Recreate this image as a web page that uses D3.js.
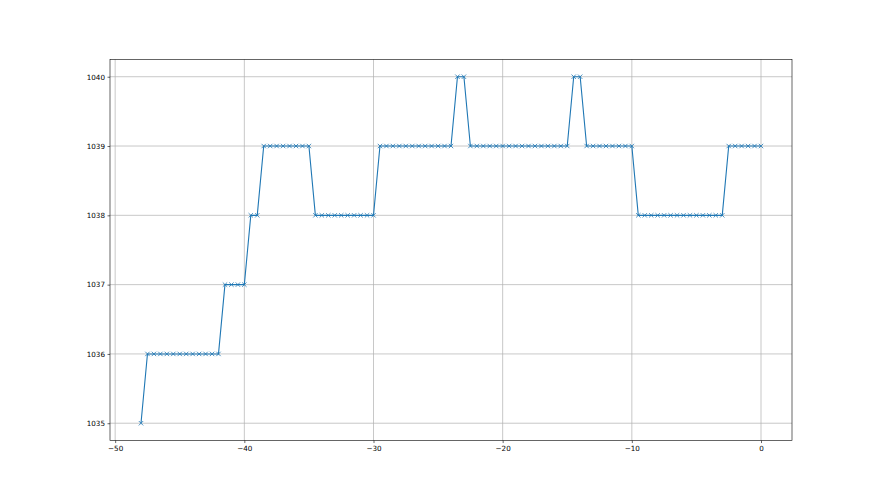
<!DOCTYPE html>
<html>
<head>
<meta charset="utf-8">
<script src="https://cdn.jsdelivr.net/npm/d3@7"></script>
<style>
  body { margin: 0; background: #fff; }
  text { font-family: "DejaVu Sans", sans-serif; }
</style>
</head>
<body>
<div id="chart"></div>
<script>
// data: x from -48 to 0 in 0.5 steps
var xValues = d3.range(-48, 0.001, 0.5);
var yValues = [
  1035,
  1036, 1036, 1036, 1036, 1036, 1036, 1036, 1036, 1036, 1036, 1036, 1036,
  1037, 1037, 1037, 1037,
  1038, 1038,
  1039, 1039, 1039, 1039, 1039, 1039, 1039, 1039,
  1038, 1038, 1038, 1038, 1038, 1038, 1038, 1038, 1038, 1038,
  1039, 1039, 1039, 1039, 1039, 1039, 1039, 1039, 1039, 1039, 1039, 1039,
  1040, 1040,
  1039, 1039, 1039, 1039, 1039, 1039, 1039, 1039, 1039, 1039, 1039, 1039, 1039, 1039, 1039, 1039,
  1040, 1040,
  1039, 1039, 1039, 1039, 1039, 1039, 1039, 1039,
  1038, 1038, 1038, 1038, 1038, 1038, 1038, 1038, 1038, 1038, 1038, 1038, 1038, 1038,
  1039, 1039, 1039, 1039, 1039, 1039
];
var xTicks = [-50, -40, -30, -20, -10, 0];
var yTicks = [1035, 1036, 1037, 1038, 1039, 1040];

var data = xValues.map(function(x, i) { return {x: x, y: yValues[i]}; });

// set the dimensions and margins of the graph
var W = 880, H = 495;
var margin = {top: 59.4, right: 88, bottom: 54.45, left: 110},
    width = W - margin.left - margin.right,
    height = H - margin.top - margin.bottom;

var svg = d3.select("#chart")
  .append("svg")
    .attr("width", W)
    .attr("height", H)
  .append("g")
    .attr("transform", "translate(" + margin.left + "," + margin.top + ")");

// scales, with matplotlib-like 5% padding
var xMin = -48, xMax = 0, yMin = 1035, yMax = 1040;
var xPad = (xMax - xMin) * 0.05, yPad = (yMax - yMin) * 0.05;
var x = d3.scaleLinear().domain([xMin - xPad, xMax + xPad]).range([0, width]);
var y = d3.scaleLinear().domain([yMin - yPad, yMax + yPad]).range([height, 0]);

// grid
svg.append("g")
  .selectAll("line.gx")
  .data(xTicks)
  .enter().append("line")
    .attr("x1", function(d) { return x(d); })
    .attr("x2", function(d) { return x(d); })
    .attr("y1", 0).attr("y2", height)
    .attr("stroke", "#b0b0b0").attr("stroke-width", 0.7);
svg.append("g")
  .selectAll("line.gy")
  .data(yTicks)
  .enter().append("line")
    .attr("y1", function(d) { return y(d); })
    .attr("y2", function(d) { return y(d); })
    .attr("x1", 0).attr("x2", width)
    .attr("stroke", "#b0b0b0").attr("stroke-width", 0.7);

// line
var line = d3.line()
  .x(function(d) { return x(d.x); })
  .y(function(d) { return y(d.y); });

svg.append("path")
  .datum(data)
  .attr("fill", "none")
  .attr("stroke", "#1f77b4")
  .attr("stroke-width", 1.1)
  .attr("d", line);

// x markers
var s = 2.2;
svg.append("g")
  .selectAll("path.mk")
  .data(data)
  .enter().append("path")
    .attr("d", function(d) {
      var cx = x(d.x), cy = y(d.y);
      return "M" + (cx - s) + "," + (cy - s) + "L" + (cx + s) + "," + (cy + s) +
             "M" + (cx - s) + "," + (cy + s) + "L" + (cx + s) + "," + (cy - s);
    })
    .attr("stroke", "#1f77b4")
    .attr("stroke-width", 0.8)
    .attr("fill", "none");

// axes
var fmt = function(d) { return d < 0 ? "\u2212" + Math.abs(d) : String(d); };
var xAxis = svg.append("g")
  .attr("transform", "translate(0," + height + ")")
  .call(d3.axisBottom(x).tickValues(xTicks).tickSize(2.5).tickPadding(2.5).tickFormat(fmt));
var yAxis = svg.append("g")
  .call(d3.axisLeft(y).tickValues(yTicks).tickSize(2.5).tickPadding(2.5).tickFormat(d3.format("d")));

[xAxis, yAxis].forEach(function(a) {
  a.select(".domain").remove();
  a.selectAll("line").attr("stroke", "#000").attr("stroke-width", 0.6);
  a.selectAll("text").attr("fill", "#000").style("font-size", "7.2px")
    .style("font-family", "'DejaVu Sans', sans-serif");
});

// frame
svg.append("rect")
  .attr("x", 0).attr("y", 0)
  .attr("width", width).attr("height", height)
  .attr("fill", "none")
  .attr("stroke", "#000")
  .attr("stroke-width", 0.6);
</script>
</body>
</html>
